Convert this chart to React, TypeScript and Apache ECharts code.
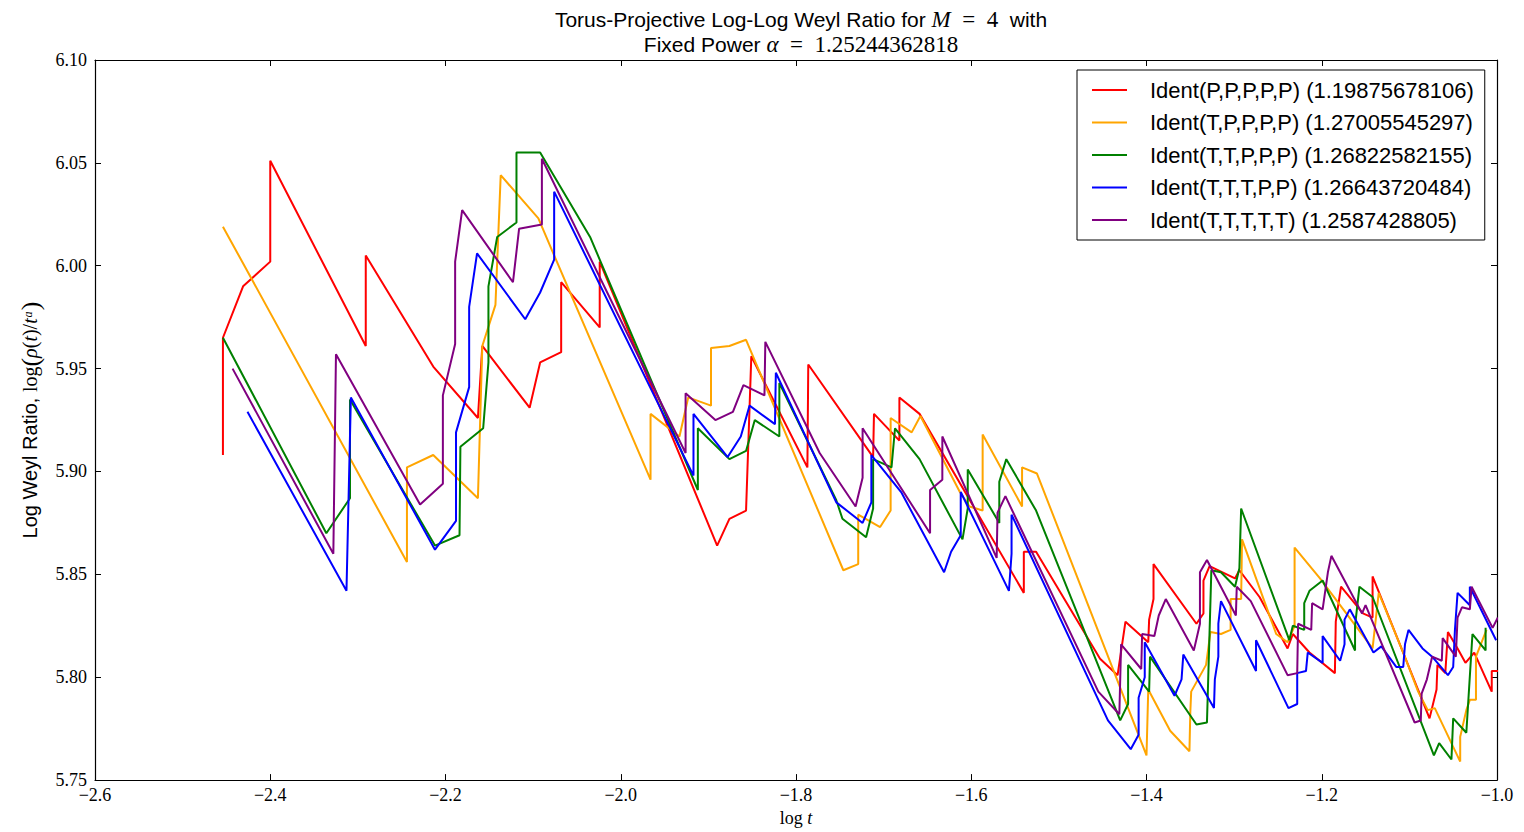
import React, { useEffect, useRef } from "react";
import * as echarts from "echarts";

const seriesNames = [
  "Ident(P,P,P,P,P) (1.19875678106)",
  "Ident(T,P,P,P,P) (1.27005545297)",
  "Ident(T,T,P,P,P) (1.26822582155)",
  "Ident(T,T,T,P,P) (1.26643720484)",
  "Ident(T,T,T,T,T) (1.2587428805)",
];
const seriesColors = ["#ff0000", "#ffa500", "#008000", "#0000ff", "#800080"];

const xTicks = [-2.6, -2.4, -2.2, -2.0, -1.8, -1.6, -1.4, -1.2, -1.0];
const yTicks = [5.75, 5.8, 5.85, 5.9, 5.95, 6.0, 6.05, 6.1];

const redPts = [
  [-2.454, 5.908], [-2.454, 5.965], [-2.431, 5.99], [-2.4, 6.002], [-2.4, 6.051],
  [-2.291, 5.961], [-2.291, 6.005], [-2.214, 5.951], [-2.163, 5.926], [-2.158, 5.961],
  [-2.104, 5.931], [-2.092, 5.953], [-2.068, 5.958], [-2.068, 5.992], [-2.024, 5.97],
  [-2.024, 6.002], [-1.89, 5.864], [-1.876, 5.877], [-1.857, 5.881], [-1.851, 5.956],
  [-1.787, 5.902], [-1.786, 5.952], [-1.712, 5.907], [-1.711, 5.928], [-1.682, 5.915],
  [-1.682, 5.936], [-1.659, 5.928], [-1.54, 5.841], [-1.54, 5.861], [-1.526, 5.861],
  [-1.453, 5.809], [-1.433, 5.801], [-1.424, 5.827], [-1.398, 5.817], [-1.397, 5.828],
  [-1.392, 5.838], [-1.392, 5.855], [-1.343, 5.826], [-1.335, 5.831], [-1.335, 5.847],
  [-1.328, 5.854], [-1.299, 5.848], [-1.294, 5.852], [-1.271, 5.839], [-1.239, 5.814],
  [-1.233, 5.821], [-1.214, 5.812], [-1.185, 5.802], [-1.184, 5.827], [-1.178, 5.844],
  [-1.153, 5.831], [-1.142, 5.829], [-1.142, 5.849], [-1.077, 5.78], [-1.069, 5.794],
  [-1.068, 5.806], [-1.059, 5.802], [-1.056, 5.822], [-1.045, 5.814], [-1.036, 5.807],
  [-1.026, 5.812], [-1.006, 5.793], [-1.006, 5.803], [-0.995, 5.803],
];

const orangePts = [
  [-2.454, 6.019], [-2.244, 5.856], [-2.244, 5.902], [-2.214, 5.908], [-2.163, 5.887],
  [-2.158, 5.961], [-2.143, 5.981], [-2.137, 6.044], [-2.094, 6.023], [-2.081, 6.01],
  [-1.966, 5.896], [-1.966, 5.928], [-1.933, 5.917], [-1.923, 5.936], [-1.897, 5.932],
  [-1.897, 5.96], [-1.876, 5.961], [-1.857, 5.964], [-1.746, 5.852], [-1.729, 5.855],
  [-1.729, 5.879], [-1.704, 5.873], [-1.692, 5.881], [-1.692, 5.926], [-1.668, 5.919],
  [-1.658, 5.927], [-1.613, 5.89], [-1.602, 5.883], [-1.587, 5.881], [-1.587, 5.918],
  [-1.542, 5.883], [-1.542, 5.902], [-1.525, 5.899], [-1.4, 5.762], [-1.398, 5.794],
  [-1.373, 5.774], [-1.351, 5.764], [-1.35, 5.783], [-1.349, 5.793], [-1.332, 5.806],
  [-1.327, 5.822], [-1.315, 5.821], [-1.304, 5.823], [-1.304, 5.838], [-1.292, 5.838],
  [-1.291, 5.867], [-1.252, 5.821], [-1.239, 5.817], [-1.231, 5.825], [-1.231, 5.863],
  [-1.202, 5.848], [-1.142, 5.814], [-1.135, 5.841], [-1.107, 5.812], [-1.09, 5.793],
  [-1.079, 5.784], [-1.071, 5.785], [-1.042, 5.759], [-1.042, 5.771], [-1.035, 5.784],
  [-1.031, 5.789], [-1.024, 5.789], [-1.024, 5.81], [-1.012, 5.823],
];

const greenPts = [
  [-2.454, 5.965], [-2.336, 5.87], [-2.309, 5.887], [-2.309, 5.935], [-2.212, 5.864],
  [-2.184, 5.869], [-2.183, 5.912], [-2.157, 5.921], [-2.151, 5.953], [-2.151, 5.99],
  [-2.141, 6.014], [-2.119, 6.021], [-2.119, 6.055], [-2.092, 6.055], [-2.035, 6.014],
  [-2.024, 6.003], [-1.912, 5.891], [-1.912, 5.921], [-1.876, 5.906], [-1.857, 5.91],
  [-1.847, 5.925], [-1.819, 5.917], [-1.819, 5.943], [-1.754, 5.886], [-1.747, 5.877],
  [-1.72, 5.868], [-1.712, 5.882], [-1.712, 5.906], [-1.691, 5.902], [-1.687, 5.921],
  [-1.659, 5.906], [-1.61, 5.867], [-1.604, 5.882], [-1.604, 5.901], [-1.568, 5.875],
  [-1.568, 5.895], [-1.56, 5.906], [-1.526, 5.881], [-1.43, 5.779], [-1.421, 5.787],
  [-1.421, 5.806], [-1.397, 5.793], [-1.396, 5.81], [-1.343, 5.777], [-1.331, 5.778],
  [-1.326, 5.852], [-1.315, 5.851], [-1.299, 5.844], [-1.294, 5.853], [-1.292, 5.882],
  [-1.237, 5.818], [-1.233, 5.825], [-1.22, 5.823], [-1.22, 5.836], [-1.214, 5.842],
  [-1.199, 5.847], [-1.162, 5.813], [-1.162, 5.825], [-1.157, 5.844], [-1.142, 5.839],
  [-1.072, 5.762], [-1.066, 5.768], [-1.052, 5.76], [-1.05, 5.78], [-1.035, 5.773],
  [-1.028, 5.821], [-1.013, 5.813], [-1.013, 5.824],
];

const bluePts = [
  [-2.426, 5.929], [-2.313, 5.842], [-2.308, 5.936], [-2.212, 5.862], [-2.188, 5.876],
  [-2.188, 5.919], [-2.173, 5.941], [-2.173, 5.98], [-2.164, 6.006], [-2.109, 5.974],
  [-2.092, 5.987], [-2.076, 6.003], [-2.076, 6.036], [-1.917, 5.898], [-1.917, 5.928],
  [-1.878, 5.907], [-1.863, 5.917], [-1.853, 5.932], [-1.824, 5.923], [-1.823, 5.948],
  [-1.754, 5.885], [-1.724, 5.875], [-1.714, 5.885], [-1.714, 5.908], [-1.68, 5.89],
  [-1.631, 5.851], [-1.623, 5.861], [-1.612, 5.869], [-1.612, 5.89], [-1.557, 5.842],
  [-1.554, 5.86], [-1.554, 5.879], [-1.444, 5.779], [-1.418, 5.765], [-1.409, 5.772],
  [-1.409, 5.79], [-1.402, 5.8], [-1.402, 5.817], [-1.368, 5.791], [-1.36, 5.799],
  [-1.358, 5.811], [-1.323, 5.785], [-1.322, 5.799], [-1.318, 5.81], [-1.318, 5.826],
  [-1.315, 5.837], [-1.275, 5.803], [-1.275, 5.818], [-1.238, 5.785], [-1.228, 5.787],
  [-1.228, 5.802], [-1.218, 5.803], [-1.216, 5.812], [-1.199, 5.807], [-1.199, 5.82],
  [-1.179, 5.808], [-1.174, 5.816], [-1.174, 5.828], [-1.168, 5.833], [-1.141, 5.812],
  [-1.132, 5.815], [-1.115, 5.805], [-1.107, 5.805], [-1.105, 5.816], [-1.101, 5.823],
  [-1.085, 5.814], [-1.074, 5.81], [-1.056, 5.801], [-1.05, 5.805], [-1.048, 5.823],
  [-1.045, 5.841], [-1.031, 5.835], [-1.031, 5.844], [-1.001, 5.818],
];

const purplePts = [
  [-2.443, 5.95], [-2.328, 5.86], [-2.325, 5.957], [-2.229, 5.884], [-2.203, 5.894],
  [-2.203, 5.937], [-2.189, 5.962], [-2.189, 6.002], [-2.181, 6.027], [-2.123, 5.992],
  [-2.116, 6.018], [-2.09, 6.02], [-2.09, 6.052], [-1.926, 5.909], [-1.926, 5.938],
  [-1.892, 5.925], [-1.872, 5.929], [-1.86, 5.942], [-1.836, 5.937], [-1.835, 5.963],
  [-1.773, 5.909], [-1.732, 5.883], [-1.724, 5.897], [-1.724, 5.921], [-1.647, 5.87],
  [-1.647, 5.891], [-1.633, 5.896], [-1.633, 5.917], [-1.571, 5.858], [-1.57, 5.88],
  [-1.561, 5.888], [-1.455, 5.793], [-1.431, 5.782], [-1.429, 5.816], [-1.406, 5.804],
  [-1.405, 5.821], [-1.391, 5.82], [-1.386, 5.83], [-1.378, 5.838], [-1.346, 5.813],
  [-1.339, 5.826], [-1.339, 5.851], [-1.331, 5.857], [-1.298, 5.83], [-1.297, 5.844],
  [-1.281, 5.837], [-1.239, 5.801], [-1.228, 5.802], [-1.227, 5.826], [-1.212, 5.823],
  [-1.211, 5.836], [-1.199, 5.833], [-1.193, 5.851], [-1.189, 5.859], [-1.154, 5.831],
  [-1.15, 5.835], [-1.094, 5.778], [-1.087, 5.779], [-1.086, 5.792], [-1.08, 5.799],
  [-1.074, 5.81], [-1.063, 5.808], [-1.062, 5.819], [-1.047, 5.81], [-1.045, 5.829],
  [-1.04, 5.834], [-1.031, 5.833], [-1.029, 5.844], [-1.005, 5.824], [-0.999, 5.829],
];

const allPts = [redPts, orangePts, greenPts, bluePts, purplePts];

const SERIF = "'Liberation Serif', 'DejaVu Serif', serif";
const SANS = "'Liberation Sans', Arial, sans-serif";

export default function App() {
  const ref = useRef<HTMLDivElement>(null);

  useEffect(() => {
    if (!ref.current) return;
    const chart = echarts.init(ref.current, null, { renderer: "svg" });

    const xMin = xTicks[0];
    const xMax = xTicks[xTicks.length - 1];
    const yMin = yTicks[0];
    const yMax = yTicks[yTicks.length - 1];

    const fmtX = (v: number) => v.toFixed(1).replace("-", "\u2212");
    const fmtY = (v: number) => v.toFixed(2);

    const axisCommon = {
      axisLine: { show: true, onZero: false, lineStyle: { color: "#000", width: 1.2 } },
      axisTick: { show: true, inside: true, length: 6, lineStyle: { color: "#000", width: 1 } },
      splitLine: { show: false },
    };

    const option: any = {
      animation: false,
      backgroundColor: "#fff",
      title: {
        left: 796,
        top: 2,
        textAlign: "center",
        text:
          "{a|Torus-Projective Log-Log Weyl Ratio for }{m|M}{n|  =  4 }{a| with}\n{a|Fixed Power }{m|α}{n|  =  1.25244362818}",
        textStyle: {
          fontWeight: "normal",
          rich: {
            a: { fontFamily: SANS, fontSize: 21, fontWeight: "normal", color: "#000", lineHeight: 25 },
            m: { fontFamily: SERIF, fontStyle: "italic", fontWeight: "normal", fontSize: 23, color: "#000", lineHeight: 25 },
            n: { fontFamily: SERIF, fontSize: 23, fontWeight: "normal", color: "#000", lineHeight: 25 },
          },
        },
      },
      legend: {
        left: 1077,
        top: 70,
        orient: "vertical",
        data: seriesNames,
        icon: "rect",
        itemWidth: 35,
        itemHeight: 2,
        itemGap: 10.5,
        padding: [9, 11, 9, 15],
        borderColor: "#000",
        borderWidth: 1,
        borderRadius: 0,
        backgroundColor: "#fff",
        textStyle: {
          fontFamily: SANS,
          fontSize: 22,
          color: "#000",
          lineHeight: 22,
          padding: [0, 0, 0, 18],
        },
      },
      grid: { left: 95, top: 60, width: 1402, height: 723, containLabel: false },
      xAxis: [
        {
          type: "value",
          min: xMin,
          max: xMax,
          interval: 0.2,
          position: "bottom",
          ...axisCommon,
          name: "{a|log }{i|t}",
          nameLocation: "middle",
          nameGap: 21,
          nameTextStyle: {
            rich: {
              a: { fontFamily: SERIF, fontSize: 18, color: "#000" },
              i: { fontFamily: SERIF, fontStyle: "italic", fontSize: 18, color: "#000" },
            },
          },
          axisLabel: {
            show: true,
            margin: 6,
            color: "#000",
            fontFamily: SERIF,
            fontSize: 18,
            formatter: fmtX,
          },
        },
        {
          type: "value",
          min: xMin,
          max: xMax,
          interval: 0.2,
          position: "top",
          ...axisCommon,
          axisLabel: { show: false },
        },
      ],
      yAxis: [
        {
          type: "value",
          min: yMin,
          max: yMax,
          interval: 0.05,
          position: "left",
          ...axisCommon,
          name: "{a|Log Weyl Ratio, }{b|log}{p|(}{i|ρ}{b|(}{i|t}{b|)/}{i|tᵅ}{p|)}",
          nameLocation: "middle",
          nameRotate: 90,
          nameGap: 52,
          nameTextStyle: {
            rich: {
              a: { fontFamily: SANS, fontSize: 20, color: "#000" },
              b: { fontFamily: SERIF, fontSize: 20, color: "#000" },
              p: { fontFamily: SERIF, fontSize: 26, color: "#000" },
              i: { fontFamily: SERIF, fontStyle: "italic", fontSize: 20, color: "#000" },
            },
          },
          axisLabel: {
            show: true,
            margin: 8,
            color: "#000",
            fontFamily: SERIF,
            fontSize: 18,
            formatter: fmtY,
          },
        },
        {
          type: "value",
          min: yMin,
          max: yMax,
          interval: 0.05,
          position: "right",
          ...axisCommon,
          axisLabel: { show: false },
        },
      ],
      series: allPts.map((pts, i) => ({
        name: seriesNames[i],
        type: "line",
        xAxisIndex: 0,
        yAxisIndex: 0,
        data: pts,
        showSymbol: false,
        symbol: "none",
        clip: true,
        color: seriesColors[i],
        lineStyle: { color: seriesColors[i], width: 2 },
        emphasis: { disabled: true },
      })),
    };

    chart.setOption(option);
    return () => chart.dispose();
  }, []);

  return (
    <div
      ref={ref}
      style={{ position: "fixed", left: 0, top: 0, width: 1524, height: 832 }}
    />
  );
}
